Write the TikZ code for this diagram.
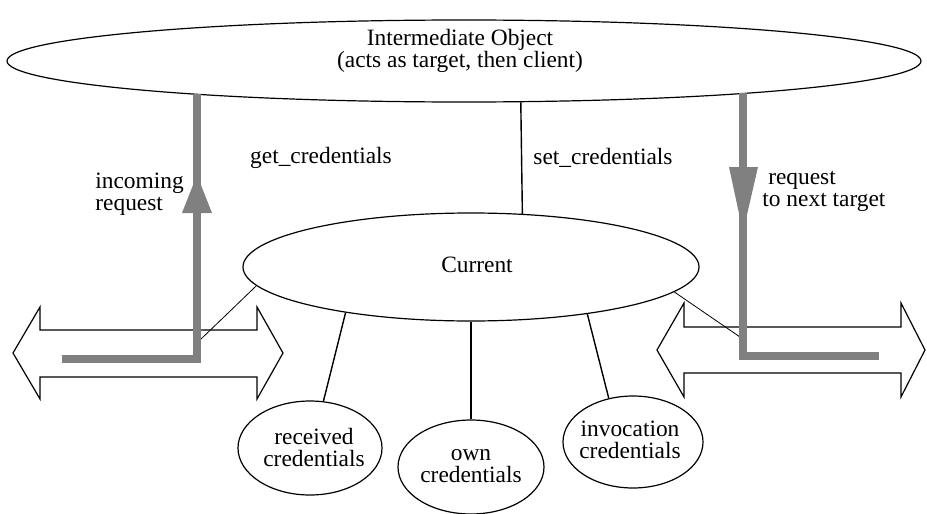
\documentclass[tikz,border=0pt]{standalone}
\usepackage{fontspec}
\setmainfont{Liberation Serif}
\usetikzlibrary{shapes.geometric}
\definecolor{reqgray}{RGB}{128,128,128}
\begin{document}
\begin{tikzpicture}[x=0.5pt,y=-0.5pt,
  txt/.style={font=\fontsize{11.7}{11}\selectfont, inner sep=0pt},
  ell/.style={draw, ellipse, line width=0.6pt, inner sep=0pt},
  conn/.style={line width=0.7pt},
  thinconn/.style={line width=0.4pt},
  dblarrow/.style={draw, line width=0.6pt, line join=miter},
  req/.style={draw=reqgray, line width=4.25pt, line join=miter},
  reqhead/.style={fill=reqgray}
]
\useasboundingbox (0,0) rectangle (927,514);

% ellipses
\node[ell, minimum width=457pt, minimum height=41pt] (inter) at (464,61) {};
\node[ell, minimum width=228pt, minimum height=54pt] (cur) at (471,267) {};
\node[ell, minimum width=72pt, minimum height=47pt] (rec) at (310,448) {};
\node[ell, minimum width=73pt, minimum height=47pt] (own) at (471,467) {};
\node[ell, minimum width=70pt, minimum height=46pt] (inv) at (633,442) {};

% texts inside ellipses
\node[txt, align=center] (intertxt) at (460,51) {Intermediate Object\\(acts as target, then client)};
\node[txt] (curtxt) at (477,265) {Current};
\node[txt, align=center] (rectxt) at (314,447) {received\\credentials};
\node[txt, align=center] (owntxt) at (471,466) {own\\credentials};
\node[txt, align=center] (invtxt) at (630,440) {invocation\\credentials};

% double arrows
\draw[dblarrow] (13,353) -- (40,307) -- (40,330) -- (257,330) -- (257,307) -- (283,353)
  -- (257,399) -- (257,377) -- (40,377) -- (40,399) -- cycle;
\draw[dblarrow] (657,350) -- (684,303) -- (684,327) -- (901,327) -- (901,303) -- (925,350)
  -- (901,397) -- (901,373) -- (684,373) -- (684,397) -- cycle;

% connectors
\draw[conn] (inter.324.5) -- (cur.46.5);
\draw[conn] (cur.200.3) -- (rec.74.3);
\draw[conn] (cur.south) -- (own.north);
\draw[conn] (cur.338.2) -- (inv.119.1);
\coordinate (lend) at (200,340);
\coordinate (rend) at (740,337);
\draw[thinconn] (cur.185.5) -- (lend);
\draw[thinconn] (cur.353) -- (rend);

% request paths
\coordinate (inStart) at (62,359);
\coordinate (inCorner) at (197,359);
\coordinate (inEnd) at (197,94);
\draw[req] (inStart) -- (inCorner) -- (inEnd);
\fill[reqhead] (197,175) -- (212,213) -- (182,213) -- cycle;

\coordinate (outStart) at (743,93);
\coordinate (outCorner) at (743,356);
\coordinate (outEnd) at (879,356);
\draw[req] (outStart) -- (outCorner) -- (outEnd);
\fill[reqhead] (743,232) -- (729,167) -- (758,167) -- cycle;

% labels
\node[txt] (getc) at (321,158) {get\_credentials};
\node[txt] (setc) at (603,158) {set\_credentials};
\node[txt, anchor=west, align=left] (incoming) at (95,194) {incoming\\request};
\node[txt, anchor=west, align=left] (nexttarget) at (762,191) {\ request\\to next target};
\end{tikzpicture}
\end{document}
